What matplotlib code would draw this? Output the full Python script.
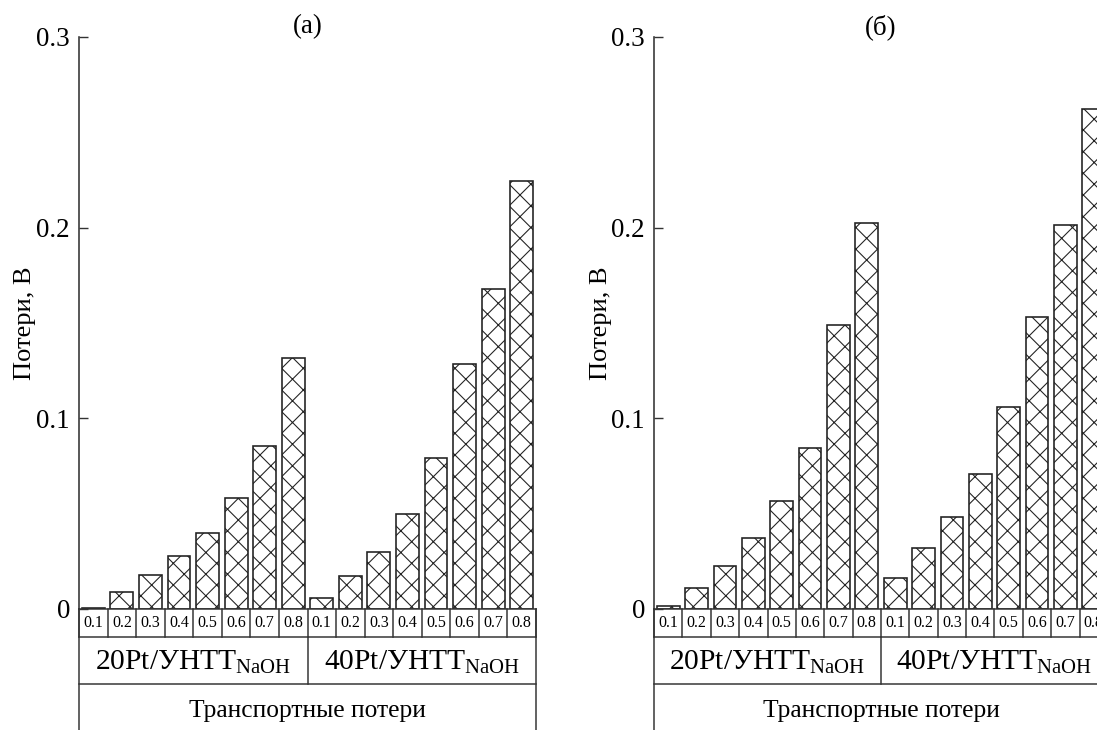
import numpy as np
import matplotlib
matplotlib.use('Agg')
import matplotlib.pyplot as plt

# current density labels under each bar
currents = ['0.1', '0.2', '0.3', '0.4', '0.5', '0.6', '0.7', '0.8']
catalysts = [r'20Pt/УНТТ$_{\mathrm{NaOH}}$', r'40Pt/УНТТ$_{\mathrm{NaOH}}$']
group_name = 'Транспортные потери'
ylabel = 'Потери, В'

# transport losses, V
loss_a_20 = [0.0005, 0.009, 0.018, 0.028, 0.040, 0.058, 0.0855, 0.1316]
loss_a_40 = [0.006, 0.0173, 0.030, 0.0497, 0.079, 0.1286, 0.168, 0.2246]
loss_b_20 = [0.0014, 0.011, 0.0227, 0.037, 0.0567, 0.0843, 0.1489, 0.2026]
loss_b_40 = [0.0163, 0.0319, 0.0484, 0.0709, 0.106, 0.153, 0.2013, 0.2623]

dpi = 130
W, H = 1097, 730

plt.rcParams['font.family'] = ['Liberation Serif', 'DejaVu Serif']
plt.rcParams['mathtext.fontset'] = 'custom'
plt.rcParams['mathtext.rm'] = 'Liberation Serif'
plt.rcParams['hatch.linewidth'] = 0.6
plt.rcParams['hatch.color'] = '#111111'


def pt(p):
    # pixel size -> points
    return p * 72.0 / dpi


fig = plt.figure(figsize=(W / dpi, H / dpi), dpi=dpi)

ax_h = 572  # pixels between 0 and 0.3
per_px = 0.3 / ax_h
line_c = '#333333'


def draw_panel(left, width, v20, v40, title):
    ax = fig.add_axes([left / W, (H - 609) / H, width / W, ax_h / H])
    vals = list(v20) + list(v40)
    x = np.arange(len(vals))
    ax.bar(x, vals, width=0.8, color='white', edgecolor='#222222',
           linewidth=0.9, hatch='xx', zorder=2)
    ax.set_xlim(-0.5, len(vals) - 0.5)
    ax.set_ylim(0, 0.3)
    for s in ['top', 'right', 'bottom']:
        ax.spines[s].set_visible(False)
    ax.spines['left'].set_color(line_c)
    ax.spines['left'].set_linewidth(pt(1.6))
    ax.set_xticks([])
    ax.set_yticks([0, 0.1, 0.2, 0.3])
    ax.set_yticklabels(['0', '0.1', '0.2', '0.3'])
    ax.tick_params(axis='y', direction='in', length=pt(9), width=pt(1.4),
                   color=line_c, labelsize=pt(27), pad=pt(9))
    ax.set_ylabel(ylabel, fontsize=pt(26.5))
    ax.yaxis.set_label_coords(-0.093, 0.5)
    ax.text(0.5, 1.0 + 10.0 / ax_h, title, transform=ax.transAxes,
            ha='center', va='center', fontsize=pt(27))

    # table under the bars
    y1 = -28 * per_px
    y2 = -75 * per_px
    y3 = -130 * per_px
    n = len(vals)
    lw = pt(1.5)
    kw = dict(color=line_c, lw=lw, clip_on=False, zorder=3)
    ax.plot([-0.5, n - 0.5], [0, 0], **kw)
    ax.plot([-0.5, n - 0.5], [y1, y1], **kw)
    ax.plot([-0.5, n - 0.5], [y2, y2], **kw)
    for i in range(n + 1):
        ax.plot([i - 0.5, i - 0.5], [0, y1], **kw)
    ax.plot([n / 2 - 0.5, n / 2 - 0.5], [y1, y2], **kw)
    ax.plot([-0.5, -0.5], [0, y3], **kw)
    ax.plot([n - 0.5, n - 0.5], [0, y3], **kw)
    labels = currents + currents
    for i, lab in enumerate(labels):
        ax.text(i, y1 / 2, lab, ha='center', va='center', fontsize=pt(16),
                clip_on=False)
    for g, name in enumerate(catalysts):
        ax.text(g * n / 2 + n / 4 - 0.5, (y1 + y2) / 2 - 2 * per_px, name,
                ha='center', va='center', fontsize=pt(29.5))
    ax.text((n - 1) / 2, -102 * per_px, group_name, ha='center', va='center',
            fontsize=pt(25.5))
    return ax


draw_panel(79, 457, loss_a_20, loss_a_40, '(a)')
draw_panel(654, 454, loss_b_20, loss_b_40, '(б)')

fig.savefig('out.png', dpi=dpi)
